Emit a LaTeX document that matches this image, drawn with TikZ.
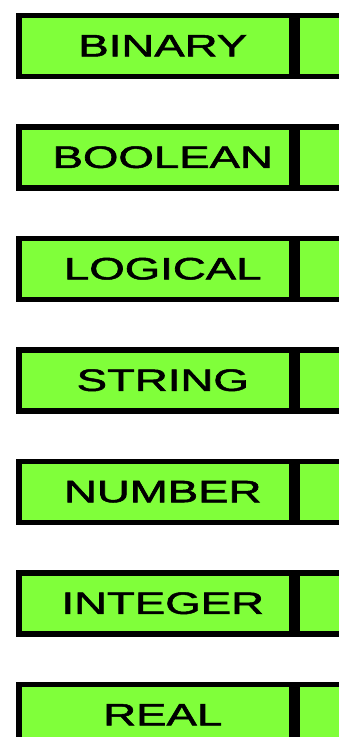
\documentclass[tikz,border=0pt]{standalone}
\usepackage{fontspec}
\setmainfont{Liberation Sans}
\newfontfamily\boxfont{Liberation Sans}[FakeBold=1.5]
\usepackage{graphicx}
\usepackage{tikz}
\usetikzlibrary{positioning}
\usepackage{xcolor}
\definecolor{boxgreen}{RGB}{128,255,58}

\begin{document}
\begin{tikzpicture}[x=1pt, y=-1pt,
  namebox/.style={draw, line width=5.5pt, fill=boxgreen, anchor=north west,
    minimum width=273pt, minimum height=61pt, inner sep=0pt,
    font=\boxfont\fontsize{31}{31}\selectfont},
  cellbox/.style={draw, line width=5.5pt, fill=boxgreen, anchor=west,
    minimum width=61pt, minimum height=61pt, inner sep=0pt}]
  \useasboundingbox (0,0) rectangle (338,737);
  \foreach \lbl [count=\i] in {BINARY, BOOLEAN, LOGICAL, STRING, NUMBER, INTEGER, REAL} {
    \node[namebox] (name\i) at (16, {12.5+(\i-1)*111.5})
      {\hspace*{15pt}\scalebox{1.47}[1]{\lbl}};
    \node[cellbox] (cell\i) at (name\i.east) {};
  }
\end{tikzpicture}
\end{document}
